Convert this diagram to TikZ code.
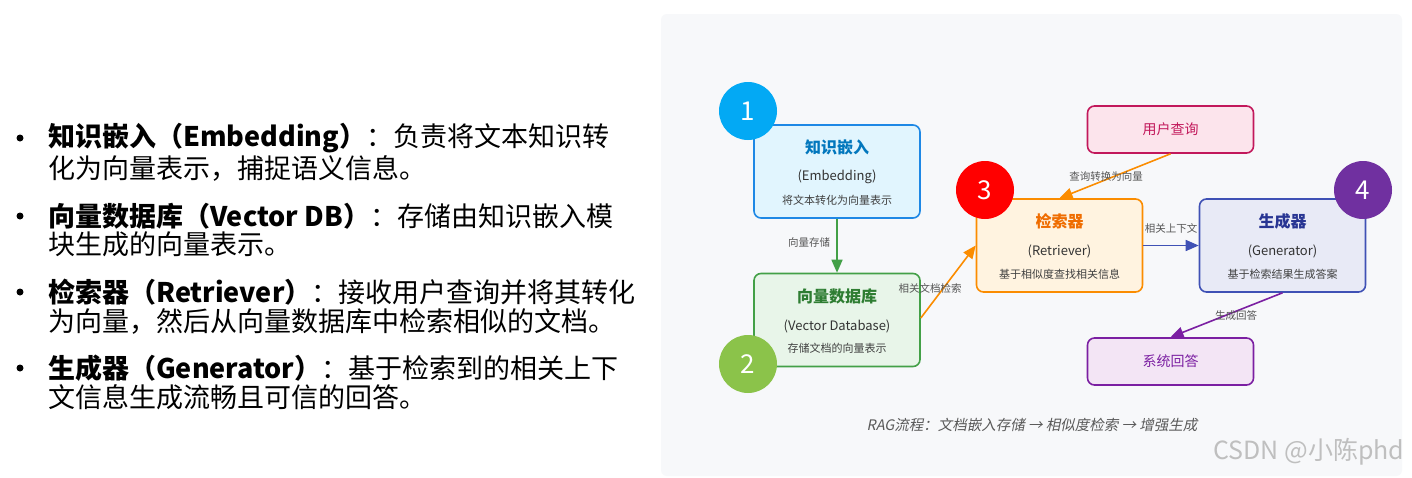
\documentclass[tikz,border=0pt]{standalone}
\usepackage{fontspec}
\setmainfont{Noto Sans CJK SC}
\newfontfamily\slantfont[FakeSlant=0.2]{Noto Sans CJK SC}
\usetikzlibrary{arrows.meta}
\definecolor{bgpanel}{HTML}{F7F8FA}
\definecolor{cblue}{HTML}{1E88E5}\definecolor{fblue}{HTML}{E1F5FE}\definecolor{tblue}{HTML}{0277BD}
\definecolor{cgreen}{HTML}{43A047}\definecolor{fgreen}{HTML}{E8F5E9}\definecolor{tgreen}{HTML}{2E7D32}
\definecolor{corange}{HTML}{FB8C00}\definecolor{forange}{HTML}{FFF3E0}\definecolor{torange}{HTML}{EF6C00}
\definecolor{cindigo}{HTML}{3F51B5}\definecolor{findigo}{HTML}{E8EAF6}\definecolor{tindigo}{HTML}{283593}
\definecolor{cpink}{HTML}{C2185B}\definecolor{fpink}{HTML}{FCE4EC}
\definecolor{cpurple}{HTML}{7B1FA2}\definecolor{fpurple}{HTML}{F3E5F5}
\definecolor{n1}{HTML}{03A9F4}\definecolor{n2}{HTML}{8BC34A}\definecolor{n3}{HTML}{FF0000}\definecolor{n4}{HTML}{7030A0}
\definecolor{lbl}{HTML}{555555}
\tikzset{
 x=1pt,y=-1pt,
 box/.style={draw, line width=1.6pt, rounded corners=7pt, minimum width=166pt},
 bigbox/.style={box, minimum height=93pt},
 smallbox/.style={box, minimum height=47pt, font=\fontsize{14}{16}\selectfont},
 ttl/.style={font=\bfseries\fontsize{16}{18}\selectfont},
 sub/.style={font=\fontsize{13}{15}\selectfont, text=black!80},
 desc/.style={font=\fontsize{11}{13}\selectfont, text=black!75},
 num/.style={circle, minimum size=58pt, text=white, font=\fontsize{26}{28}\selectfont},
 elbl/.style={font=\fontsize{10.5}{12}\selectfont, text=lbl},
 arr/.style={line width=1.6pt, -{Triangle[length=13pt,width=11pt]}, },
 li/.style={anchor=west, font=\fontsize{27}{30}\selectfont, inner sep=0pt},
}
\begin{document}
\begin{tikzpicture}
\useasboundingbox (0,0) rectangle (1412,477);
\fill[white] (0,0) rectangle (1412,477);
\fill[bgpanel, rounded corners=6pt] (661,14) rectangle (1402,476);
% left text
\foreach \yy in {138,216,292,368}{\fill (20,\yy) circle (3.5pt);}
\node[li] (l1) at (48,138) {\textbf{知识嵌入（Embedding）}：负责将文本知识转};
\node[li] (l2) at (48,168) {化为向量表示，捕捉语义信息。};
\node[li] (l3) at (48,216) {\textbf{向量数据库（Vector DB）}：存储由知识嵌入模};
\node[li] (l4) at (48,244) {块生成的向量表示。};
\node[li] (l5) at (48,292) {\textbf{检索器（Retriever）}：接收用户查询并将其转化};
\node[li] (l6) at (48,321) {为向量，然后从向量数据库中检索相似的文档。};
\node[li] (l7) at (48,368) {\textbf{生成器（Generator）}：基于检索到的相关上下};
\node[li] (l8) at (48,397) {文信息生成流畅且可信的回答。};
% boxes
\node[bigbox, draw=cblue, fill=fblue] (emb) at (837,171.5) {};
\node[ttl, text=tblue] (embt) at (837,147) {知识嵌入};
\node[sub] (embs) at (837,177) {(Embedding)};
\node[desc] (embd) at (837,200) {将文本转化为向量表示};
\node[bigbox, draw=cgreen, fill=fgreen] (vdb) at (837,320) {};
\node[ttl, text=tgreen] (vdbt) at (837,296) {向量数据库};
\node[sub] (vdbs) at (837,326) {(Vector Database)};
\node[desc] (vdbd) at (837,348) {存储文档的向量表示};
\node[bigbox, draw=corange, fill=forange] (ret) at (1059.5,245.5) {};
\node[ttl, text=torange] (rett) at (1059.5,221) {检索器};
\node[sub] (rets) at (1059.5,251) {(Retriever)};
\node[desc] (retd) at (1059.5,274) {基于相似度查找相关信息};
\node[bigbox, draw=cindigo, fill=findigo] (gen) at (1282.5,245.5) {};
\node[ttl, text=tindigo] (gent) at (1282.5,221) {生成器};
\node[sub] (gens) at (1282.5,251) {(Generator)};
\node[desc] (gend) at (1282.5,274) {基于检索结果生成答案};
\node[smallbox, draw=cpink, fill=fpink, text=cpink] (uq) at (1170.5,129.5) {用户查询};
\node[smallbox, draw=cpurple, fill=fpurple, text=cpurple] (ans) at (1170.5,361.5) {系统回答};
% arrows
\draw[arr, draw=cgreen] (emb.south) -- (vdb.north);
\node[elbl] (e1) at (809,242) {向量存储};
\draw[arr, draw=corange] (vdb.east) ++(0,-2) coordinate (vs) (vs) -- (ret.west);
\node[elbl] (e2) at (930,288) {相关文档检索};
\draw[arr, draw=corange] (uq.south) -- (ret.north);
\node[elbl] (e3) at (1106,177) {查询转换为向量};
\draw[arr, draw=cindigo] (ret.east) -- (gen.west);
\node[elbl] (e4) at (1171,228) {相关上下文};
\draw[arr, draw=cpurple] (gen.south) -- (ans.north);
\node[elbl] (e5) at (1236,316) {生成回答};
% numbers
\node[num, fill=n1] (c1) at (748,111) {1};
\node[num, fill=n2] (c2) at (748,364) {2};
\node[num, fill=n3] (c3) at (985,190) {3};
\node[num, fill=n4] (c4) at (1363,190) {4};
% caption
\node[font=\slantfont\fontsize{14.5}{16}\selectfont, text=black!65] (cap) at (1032,425) {RAG流程：文档嵌入存储 → 相似度检索 → 增强生成};
\node[font=\fontsize{25}{27}\selectfont, text=black!25] (wm) at (1309,452) {CSDN @小陈phd};
\end{tikzpicture}
\end{document}
